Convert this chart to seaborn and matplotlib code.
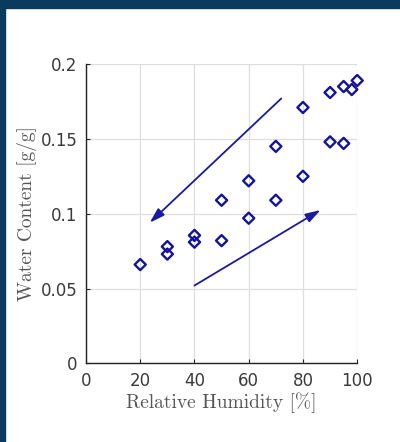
import matplotlib
matplotlib.use("Agg")
import matplotlib.pyplot as plt
import pandas as pd
import seaborn as sns
from matplotlib.patches import Rectangle

# Data
humidity = [20, 30, 30, 40, 40, 50, 50, 60, 60, 70, 70, 80, 80, 90, 90, 95, 95, 98, 100]
water = [0.066, 0.078, 0.073, 0.0855, 0.081, 0.109, 0.082, 0.122, 0.097, 0.145,
         0.109, 0.171, 0.125, 0.181, 0.148, 0.185, 0.147, 0.183, 0.189]

# arrows: (start, end) in data units
desorption_arrow = [(72, 0.177), (23.5, 0.094)]
adsorption_arrow = [(40, 0.052), (86.5, 0.1025)]

x_ticks = [0, 20, 40, 60, 80, 100]
y_ticks = [0, 0.05, 0.1, 0.15, 0.2]
y_tick_labels = ["0", "0.05", "0.1", "0.15", "0.2"]

df = pd.DataFrame({"rh": humidity, "wc": water})

sns.set_style("white")
fig = plt.figure(figsize=(4, 4.42), dpi=100)
ax = fig.add_axes([0.215, 0.178, 0.678, 0.677])

# navy frame on the left and top
fig.patches.append(Rectangle((0, 0), 5 / 400, 1, transform=fig.transFigure,
                             color="#0b3a5f", zorder=0))
fig.patches.append(Rectangle((0, 1 - 8 / 442), 1, 8 / 442, transform=fig.transFigure,
                             color="#0b3a5f", zorder=0))

marker_color = "#14149a"
sns.scatterplot(data=df, x="rh", y="wc", ax=ax, marker="D", s=32,
                facecolors="none", edgecolor=marker_color, linewidth=1.7,
                zorder=3, clip_on=False)

for start, end in (desorption_arrow, adsorption_arrow):
    ax.annotate("", xy=end, xytext=start,
                arrowprops=dict(arrowstyle="-|>,head_length=0.9,head_width=0.28",
                                color="#1a1aa0", lw=1.3, shrinkA=0, shrinkB=0))

ax.set_xlim(0, 100)
ax.set_ylim(0, 0.2)
ax.set_xticks(x_ticks)
ax.set_yticks(y_ticks)
ax.set_yticklabels(y_tick_labels)
ax.grid(True, color="#dedede", linewidth=0.9)
ax.set_axisbelow(True)

for side in ("top", "right"):
    ax.spines[side].set_visible(False)
for side in ("left", "bottom"):
    ax.spines[side].set_color("#222222")
    ax.spines[side].set_linewidth(1.0)

ax.tick_params(direction="in", length=3, width=0.8, colors="#222222",
               labelsize=12, labelcolor="#3a3a3a", pad=6,
               left=True, bottom=True)

label_font = dict(family=["cmr10", "DejaVu Serif"], size=14, color="#555555")
ax.set_xlabel("Relative Humidity [%]", labelpad=2, **label_font)
ax.set_ylabel("Water Content [g/g]", labelpad=3, **label_font)

fig.savefig("out.png", dpi=100, facecolor="white")
